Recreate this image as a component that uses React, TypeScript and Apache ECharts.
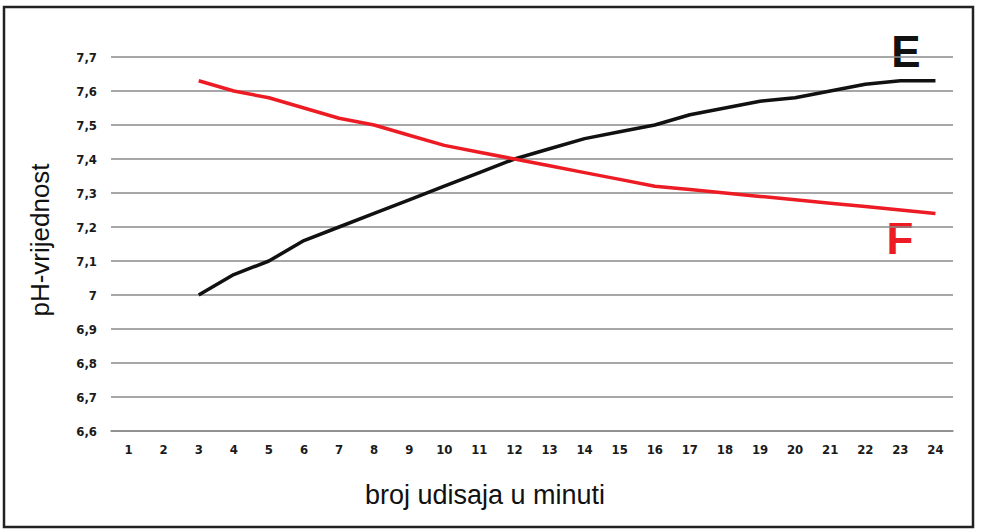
import React, { useRef, useEffect } from "react";
import * as echarts from "echarts";

const categories = [
  "1", "2", "3", "4", "5", "6", "7", "8", "9", "10", "11", "12",
  "13", "14", "15", "16", "17", "18", "19", "20", "21", "22", "23", "24",
];

const seriesE = [
  null, null, 7.0, 7.06, 7.1, 7.16, 7.2, 7.24, 7.28, 7.32, 7.36, 7.4,
  7.43, 7.46, 7.48, 7.5, 7.53, 7.55, 7.57, 7.58, 7.6, 7.62, 7.63, 7.63,
];

const seriesF = [
  null, null, 7.63, 7.6, 7.58, 7.55, 7.52, 7.5, 7.47, 7.44, 7.42, 7.4,
  7.38, 7.36, 7.34, 7.32, 7.31, 7.3, 7.29, 7.28, 7.27, 7.26, 7.25, 7.24,
];

const labelFont = "'Liberation Sans Narrow', 'DejaVu Sans Condensed', 'Liberation Sans', sans-serif";
const titleFont = "'Liberation Sans', Arial, sans-serif";

function fmtTick(v: number) {
  const r = Math.round(v * 10) / 10;
  if (Math.abs(r - Math.round(r)) < 1e-9) return String(Math.round(r));
  return r.toFixed(1).replace(".", ",");
}

function buildOption() {
  return {
    animation: false,
    backgroundColor: "#ffffff",
    grid: { left: 111, right: 29, top: 57, bottom: 101 },
    xAxis: {
      type: "category",
      data: categories,
      boundaryGap: true,
      axisLine: { show: true, lineStyle: { color: "#8a8a8a", width: 1.5 } },
      axisTick: { show: false },
      axisLabel: { color: "#1a1a1a", fontSize: 13, fontWeight: "bold", fontFamily: labelFont, margin: 12 },
      splitLine: { show: false },
    },
    yAxis: {
      type: "value",
      min: 6.6,
      max: 7.7,
      interval: 0.1,
      axisLine: { show: false },
      axisTick: { show: false },
      axisLabel: {
        color: "#1a1a1a",
        fontSize: 13,
        fontWeight: "bold",
        fontFamily: labelFont,
        margin: 14,
        formatter: (v: number) => fmtTick(v),
      },
      splitLine: { lineStyle: { color: "#8a8a8a", width: 1.5 } },
    },
    graphic: [
      {
        type: "rect",
        shape: { x: 4, y: 7, width: 969, height: 520 },
        style: { fill: "none", stroke: "#222", lineWidth: 2.5 },
        silent: true,
      },
      {
        type: "text",
        x: 40,
        y: 240,
        rotation: Math.PI / 2,
        style: {
          text: "pH-vrijednost",
          fill: "#111",
          font: `26px ${titleFont}`,
          align: "center",
          verticalAlign: "middle",
        },
      },
      {
        type: "text",
        x: 485,
        y: 495,
        style: {
          text: "broj udisaja u minuti",
          fill: "#111",
          font: `27px ${titleFont}`,
          align: "center",
          verticalAlign: "middle",
        },
      },
      {
        type: "text",
        x: 906,
        y: 51,
        style: {
          text: "E",
          fill: "#111",
          font: `bold 44px ${titleFont}`,
          align: "center",
          verticalAlign: "middle",
        },
      },
      {
        type: "text",
        x: 900,
        y: 238,
        style: {
          text: "F",
          fill: "#ed1c24",
          font: `bold 44px ${titleFont}`,
          align: "center",
          verticalAlign: "middle",
        },
      },
    ],
    series: [
      {
        name: "E",
        type: "line",
        data: seriesE,
        symbol: "none",
        lineStyle: { color: "#111111", width: 3.5 },
      },
      {
        name: "F",
        type: "line",
        data: seriesF,
        symbol: "none",
        lineStyle: { color: "#ed1c24", width: 3.5 },
      },
    ],
  };
}

export default function App() {
  const chartRef = useRef<HTMLDivElement>(null);

  useEffect(() => {
    if (!chartRef.current) return;
    const chart = echarts.init(chartRef.current, undefined, { renderer: "svg" });
    // eslint-disable-next-line @typescript-eslint/no-explicit-any
    chart.setOption(buildOption() as any);
    return () => chart.dispose();
  }, []);

  return (
    <div
      ref={chartRef}
      style={{ position: "absolute", left: 0, top: 0, width: 982, height: 532 }}
    />
  );
}
